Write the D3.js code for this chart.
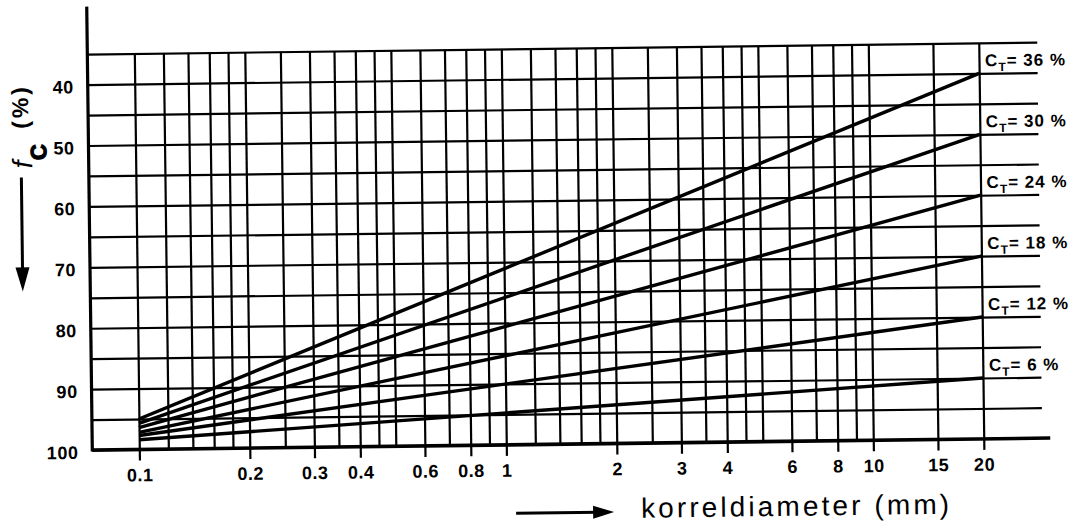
<!DOCTYPE html>
<html>
<head>
<meta charset="utf-8">
<script src="https://cdn.jsdelivr.net/npm/d3@7"></script>
<style>
  html, body { margin: 0; padding: 0; background: #fff; }
  svg { display: block; }
  text { font-family: "Liberation Sans", Arial, Helvetica, sans-serif; fill: #000; }
</style>
</head>
<body>
<svg id="chart" width="1070" height="528"></svg>
<script>
// Total carbonate content C_T of each curve (%)
const ctValues = [36, 30, 24, 18, 12, 6];
// f_c (%) of each curve at the smallest grain diameter (0.1 mm)
const fcStart = [95.0, 95.7, 96.4, 97.2, 97.7, 98.4];
// f_c (%) of each curve at the largest grain diameter (20 mm)
const fcEnd = [40, 50, 60, 70, 80, 90];
// grain diameter range of the curves (mm)
const diameterRange = [0.1, 20];

// vertical grid lines (mm)
const xGridValues = [0.1, 0.12, 0.14, 0.16, 0.18, 0.2, 0.25, 0.3, 0.35, 0.4, 0.45, 0.5,
  0.6, 0.7, 0.8, 0.9, 1, 1.2, 1.4, 1.6, 1.8, 2, 2.5, 3, 3.5, 4, 4.5, 5, 6, 7, 8, 9, 10, 15, 20];
// labelled diameters
const xTickLabels = [0.1, 0.2, 0.3, 0.4, 0.6, 0.8, 1, 2, 3, 4, 6, 8, 10, 15, 20];
// horizontal grid lines (%)
const yGridValues = [35, 40, 45, 50, 55, 60, 65, 70, 75, 80, 85, 90, 95];
// labelled f_c values
const yTickLabels = [40, 50, 60, 70, 80, 90, 100];

const svg = d3.select("#chart");
// the whole sheet sits slightly tilted
const g = svg.append("g").attr("transform", "rotate(-0.72 535 264)");

const axisX = 90, gridRight = 1040, baseRight = 1048;
const x = d3.scaleLog().domain(diameterRange).range([137, 981.5]);
const y = d3.scaleLinear().domain([35, 100]).range([48.5, 444.5]);

// horizontal grid
const hGrid = g.append("g").attr("transform", `translate(${axisX},0)`)
  .call(d3.axisLeft(y).tickValues(yGridValues).tickSize(-(gridRight - axisX)).tickFormat(""));
hGrid.select(".domain").remove();
hGrid.selectAll(".tick line").attr("stroke", "#000").attr("stroke-width", 2.2);

// vertical grid
const vGrid = g.append("g").attr("transform", `translate(0,${y(100)})`)
  .call(d3.axisBottom(x).tickValues(xGridValues).tickSize(-(y(100) - y(35))).tickFormat(""));
vGrid.select(".domain").remove();
vGrid.selectAll(".tick line").attr("stroke", "#000").attr("stroke-width", 2.2);

// x axis ticks and labels
const xAxis = g.append("g").attr("transform", `translate(0,${y(100)})`)
  .call(d3.axisBottom(x).tickValues(xTickLabels).tickSize(11).tickPadding(8)
    .tickFormat(d => String(d)));
xAxis.select(".domain").remove();
xAxis.selectAll(".tick line").attr("stroke", "#000").attr("stroke-width", 2.2);
xAxis.selectAll(".tick text")
  .attr("fill", "#000")
  .style("font-size", "18px").style("font-weight", "bold").style("letter-spacing", "0.5px")
  .style("font-family", "'Liberation Sans', Arial, sans-serif");

// y axis labels
const yAxis = g.append("g").attr("transform", `translate(${axisX},0)`)
  .call(d3.axisLeft(y).tickValues(yTickLabels).tickSize(0).tickPadding(14));
yAxis.select(".domain").remove();
yAxis.selectAll(".tick text")
  .attr("fill", "#000").attr("dy", "0.45em")
  .style("font-size", "18px").style("font-weight", "bold").style("letter-spacing", "0.5px")
  .style("font-family", "'Liberation Sans', Arial, sans-serif");

// left axis line and heavy base line
g.append("line")
  .attr("x1", axisX).attr("x2", axisX).attr("y1", 1).attr("y2", y(100) + 1.5)
  .attr("stroke", "#000").attr("stroke-width", 3.2);
g.append("line")
  .attr("x1", axisX).attr("x2", baseRight).attr("y1", y(100)).attr("y2", y(100))
  .attr("stroke", "#000").attr("stroke-width", 3.6);

// C_T curves
const curves = ctValues.map((ct, i) => ({
  ct,
  pts: [{ d: diameterRange[0], f: fcStart[i] }, { d: diameterRange[1], f: fcEnd[i] }]
}));
const line = d3.line().x(p => x(p.d)).y(p => y(p.f));
g.append("g").selectAll("path").data(curves).join("path")
  .attr("d", c => line(c.pts))
  .attr("fill", "none").attr("stroke", "#000").attr("stroke-width", 3.4);

// curve labels
const labels = g.append("g").selectAll("text").data(curves).join("text")
  .attr("x", c => x(diameterRange[1]) + 6)
  .attr("y", c => y(c.pts[1].f) - 7)
  .style("font-size", "17px").style("font-weight", "bold").style("letter-spacing", "1px");
labels.append("tspan").text("C");
labels.append("tspan").attr("dy", 5).style("font-size", "12px").text("T");
labels.append("tspan").attr("dy", -5).text(c => "= " + c.ct + " %");

// y axis title: f_C (%) with downward arrow
g.append("text")
  .attr("transform", "translate(24,158) rotate(-90)")
  .attr("text-anchor", "middle").attr("dominant-baseline", "central")
  .style("font-size", "28px").style("font-style", "italic")
  .text("f");
g.append("text")
  .attr("transform", "translate(40,146) rotate(-90)")
  .attr("text-anchor", "middle").attr("dominant-baseline", "central")
  .style("font-size", "22px").style("font-weight", "900")
  .style("stroke", "#000").style("stroke-width", 1.2)
  .text("C");
g.append("text")
  .attr("transform", "translate(22,100) rotate(-90)")
  .attr("text-anchor", "middle").attr("dominant-baseline", "central")
  .style("font-size", "23px").style("font-weight", "bold").style("letter-spacing", "3px")
  .text("(%)");
g.append("line")
  .attr("x1", 22.5).attr("x2", 22.5).attr("y1", 171).attr("y2", 264)
  .attr("stroke", "#000").attr("stroke-width", 3);
g.append("path")
  .attr("d", "M 15.5 261 L 29.5 261 L 22.5 285 Z")
  .attr("fill", "#000");

// x axis title with arrow
g.append("line")
  .attr("x1", 513).attr("x2", 596).attr("y1", 513).attr("y2", 513)
  .attr("stroke", "#000").attr("stroke-width", 3);
g.append("path")
  .attr("d", "M 590 506.5 L 611 513 L 590 519.5 Z")
  .attr("fill", "#000");
g.append("text")
  .attr("x", 638).attr("y", 519)
  .attr("textLength", 308).attr("lengthAdjust", "spacing")
  .style("font-size", "28px")
  .text("korreldiameter (mm)");
</script>
</body>
</html>
